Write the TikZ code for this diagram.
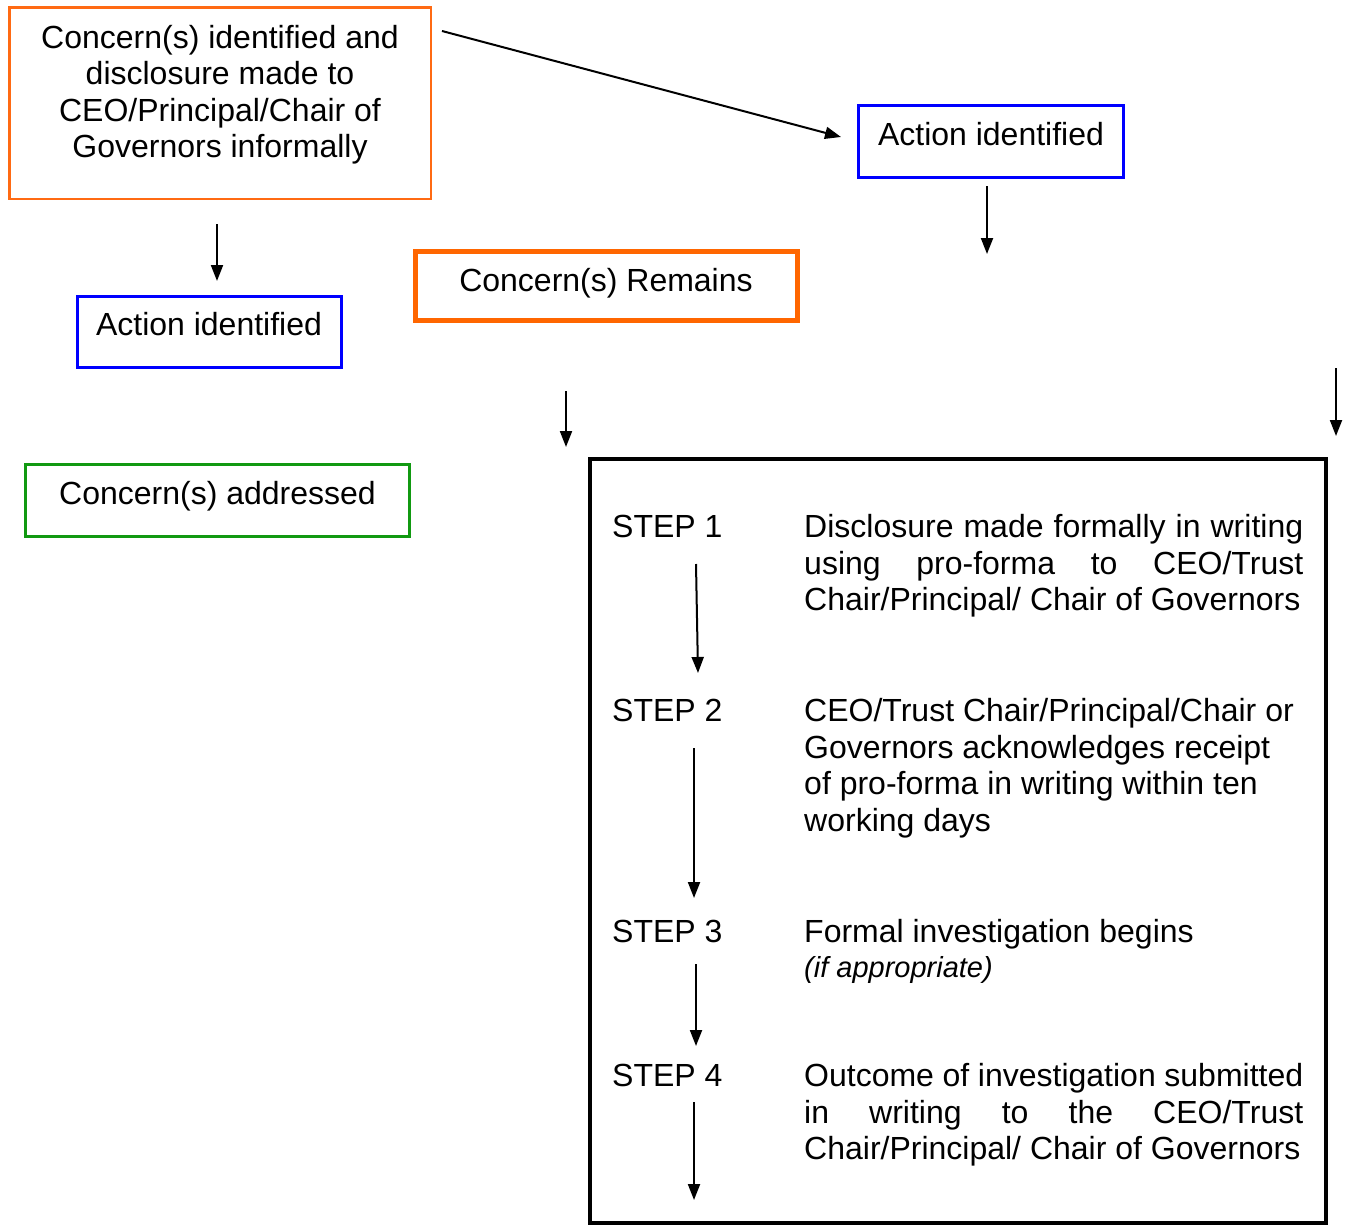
\documentclass[tikz,border=0pt]{standalone}
\usepackage{fontspec}
\setmainfont{Liberation Sans}
\usetikzlibrary{arrows.meta}
\definecolor{orng}{HTML}{FF6A13}
\definecolor{orngthick}{HTML}{FF6600}
\definecolor{bluebox}{HTML}{0000FF}
\definecolor{greenbox}{HTML}{119911}
\tikzset{
  bigfont/.style={font=\fontsize{32}{36.6}\selectfont},
  boxthin/.style={draw=#1, line width=2.3pt, inner sep=0pt},
  txt/.style={bigfont, inner sep=0pt, anchor=base},
  steplabel/.style={bigfont, inner sep=0pt, anchor=base west},
  steptext/.style={bigfont, inner sep=0pt, anchor=base west},
  arr/.style={line width=2pt, -{Triangle[length=16pt,width=12pt]}},
}
\begin{document}
\begin{tikzpicture}[x=1pt,y=-1pt]
\useasboundingbox (0,0) rectangle (1349,1226);
% boxes
\draw[boxthin=orng] (9.5,7.5) rectangle (431,199) coordinate (b1se);
\node[bigfont, align=center, inner sep=0pt] (c1) at (220,94.7)
  {Concern(s) identified and\\disclosure made to\\CEO/Principal/Chair of\\Governors informally};
\draw[boxthin=bluebox] (858.5,105.5) rectangle (1123.5,177.5);
\node[txt] (ai1) at (991,145.5) {Action identified};
\draw[draw=orngthick, line width=5pt] (415.5,251.5) rectangle (797.5,320.5);
\node[txt] (cr) at (606,291.5) {Concern(s) Remains};
\draw[boxthin=bluebox] (77.5,296.5) rectangle (341.5,367.5);
\node[txt] (ai2) at (209,335.5) {Action identified};
\draw[boxthin=greenbox] (25.5,464.5) rectangle (409.5,536.5);
\node[txt] (ca) at (217.5,504.5) {Concern(s) addressed};
\draw[line width=4pt] (589.5,458.5) rectangle (1325.5,1222.5);
% steps
\node[steplabel] (s1) at (612,537.5) {STEP 1};
\node[steptext] (t1) at (804,537.5) {\parbox[t]{499pt}{\fontsize{32}{36.6}\selectfont Disclosure made formally in writing\linebreak using pro-forma to CEO/Trust\linebreak Chair/Principal/ Chair of Governors}};
\node[steplabel] (s2) at (612,721.5) {STEP 2};
\node[steptext] (t2) at (804,721.5) {\parbox[t]{499pt}{\raggedright\fontsize{32}{36.6}\selectfont CEO/Trust Chair/Principal/Chair or\\Governors acknowledges receipt\\of pro-forma in writing within ten\\working days}};
\node[steplabel] (s3) at (612,942.5) {STEP 3};
\node[steptext] (t3) at (804,942.5) {\parbox[t]{499pt}{\raggedright\fontsize{32}{36.6}\selectfont Formal investigation begins\par{\fontsize{29}{35}\selectfont\itshape (if appropriate)\par}}};
\node[steplabel] (s4) at (612,1086.5) {STEP 4};
\node[steptext] (t4) at (804,1086.5) {\parbox[t]{499pt}{\fontsize{32}{36.6}\selectfont Outcome of investigation submitted\linebreak in writing to the CEO/Trust\linebreak Chair/Principal/ Chair of Governors}};
% arrow coordinates
\coordinate (a1s) at (442,31);   \coordinate (a1e) at (841,137);
\coordinate (a2s) at (217,224);  \coordinate (a2e) at (217,281);
\coordinate (a3s) at (987,186);  \coordinate (a3e) at (987,254);
\coordinate (a4s) at (566,391);  \coordinate (a4e) at (566,447);
\coordinate (a5s) at (1336,368); \coordinate (a5e) at (1336,436);
\coordinate (a6s) at (696,564);  \coordinate (a6e) at (698,673);
\coordinate (a7s) at (694,748);  \coordinate (a7e) at (694,898);
\coordinate (a8s) at (696,964);  \coordinate (a8e) at (696,1046);
\coordinate (a9s) at (694,1102); \coordinate (a9e) at (694,1200);
\foreach \i in {1,...,9} \draw[arr] (a\i s) -- (a\i e);
\end{tikzpicture}
\end{document}
